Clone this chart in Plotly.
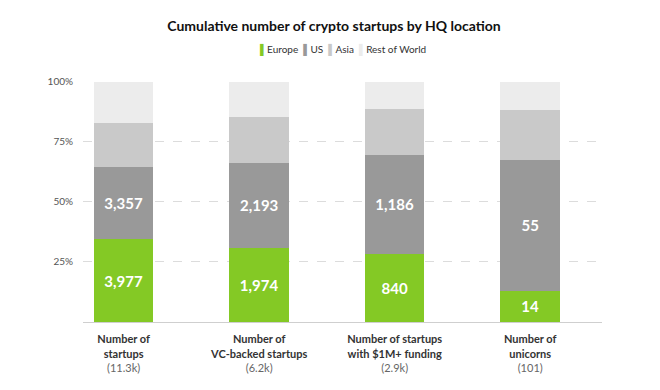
import plotly.graph_objects as go

categories = ["Number of startups", "Number of VC-backed startups",
              "Number of startups with $1M+ funding", "Number of unicorns"]
tick_line1 = ["Number of", "Number of", "Number of startups", "Number of"]
tick_line2 = ["startups", "VC-backed startups", "with $1M+ funding", "unicorns"]
tick_line3 = ["(11.3k)", "(6.2k)", "(2.9k)", "(101)"]

# shares (%)
europe_pct = [34.4, 30.9, 28.5, 13.0]
us_pct = [30.0, 35.4, 41.1, 54.6]
asia_pct = [18.5, 18.9, 19.1, 20.7]
row_pct = [17.1, 14.8, 11.3, 11.7]

europe_labels = ["3,977", "1,974", "840", "14"]
us_labels = ["3,357", "2,193", "1,186", "55"]

series_names = ["Europe", "US", "Asia", "Rest of World"]
colors = {"Europe": "#84c925", "US": "#999999", "Asia": "#c9c9c9", "Rest of World": "#ececec"}

FONT = "Lato"
x = list(range(len(categories)))

fig = go.Figure()
series = [("Europe", europe_pct, europe_labels),
          ("US", us_pct, us_labels),
          ("Asia", asia_pct, None),
          ("Rest of World", row_pct, None)]
for name, vals, labels in series:
    fig.add_trace(go.Bar(
        name=name, x=x, y=vals,
        marker=dict(color=colors[name], line=dict(width=0)),
        width=0.44,
        text=labels if labels else None,
        textposition="inside" if labels else "none",
        insidetextanchor="middle",
        textangle=0,
        constraintext="none",
        textfont=dict(family=FONT, size=15, color="white", weight="bold"),
        hoverinfo="skip",
        showlegend=False,
    ))

ticktext = [f"<b>{a}</b><br><b>{b}</b><br><span style='color:#666'>{c}</span>"
            for a, b, c in zip(tick_line1, tick_line2, tick_line3)]

legend_text = "  ".join(
    f"<span style='color:{colors[n]}'>▌</span>{n}" for n in series_names)

# page has an 8px body margin, so the figure is sized to fit the window
fig.update_layout(
    barmode="stack",
    width=652, height=382,
    margin=dict(l=75, r=58, t=73, b=68, autoexpand=False),
    paper_bgcolor="white", plot_bgcolor="white",
    font=dict(family=FONT, color="#333"),
    title=dict(text="<b>Cumulative number of crypto startups by HQ location</b>",
               x=0.5, xanchor="center", y=0.952, yanchor="middle",
               font=dict(family=FONT, size=14, color="#111")),
    annotations=[dict(text=legend_text, xref="paper", yref="paper",
                      x=0.5, xanchor="center", y=1.129, yanchor="middle",
                      showarrow=False,
                      font=dict(family=FONT, size=10, color="#333"))],
    bargap=0.5,
)
fig.update_xaxes(
    range=[-0.3, 3.53], tickmode="array", tickvals=x, ticktext=ticktext,
    tickfont=dict(family=FONT, size=11, color="#333"),
    showgrid=False, showline=True, linecolor="#cfcfcf", linewidth=1,
    ticks="", zeroline=False, fixedrange=True, ticklabelstandoff=7,
)
fig.update_yaxes(
    range=[0, 100.3], tickvals=[25, 50, 75, 100],
    ticktext=["25%", "50%", "75%", "100%"],
    tickfont=dict(family=FONT, size=10, color="#555"),
    showgrid=True, gridcolor="#dcdcdc", griddash="dash", gridwidth=1,
    zeroline=False, showline=False, ticks="", ticklabelstandoff=9,
)

fig.write_html("out.html")
